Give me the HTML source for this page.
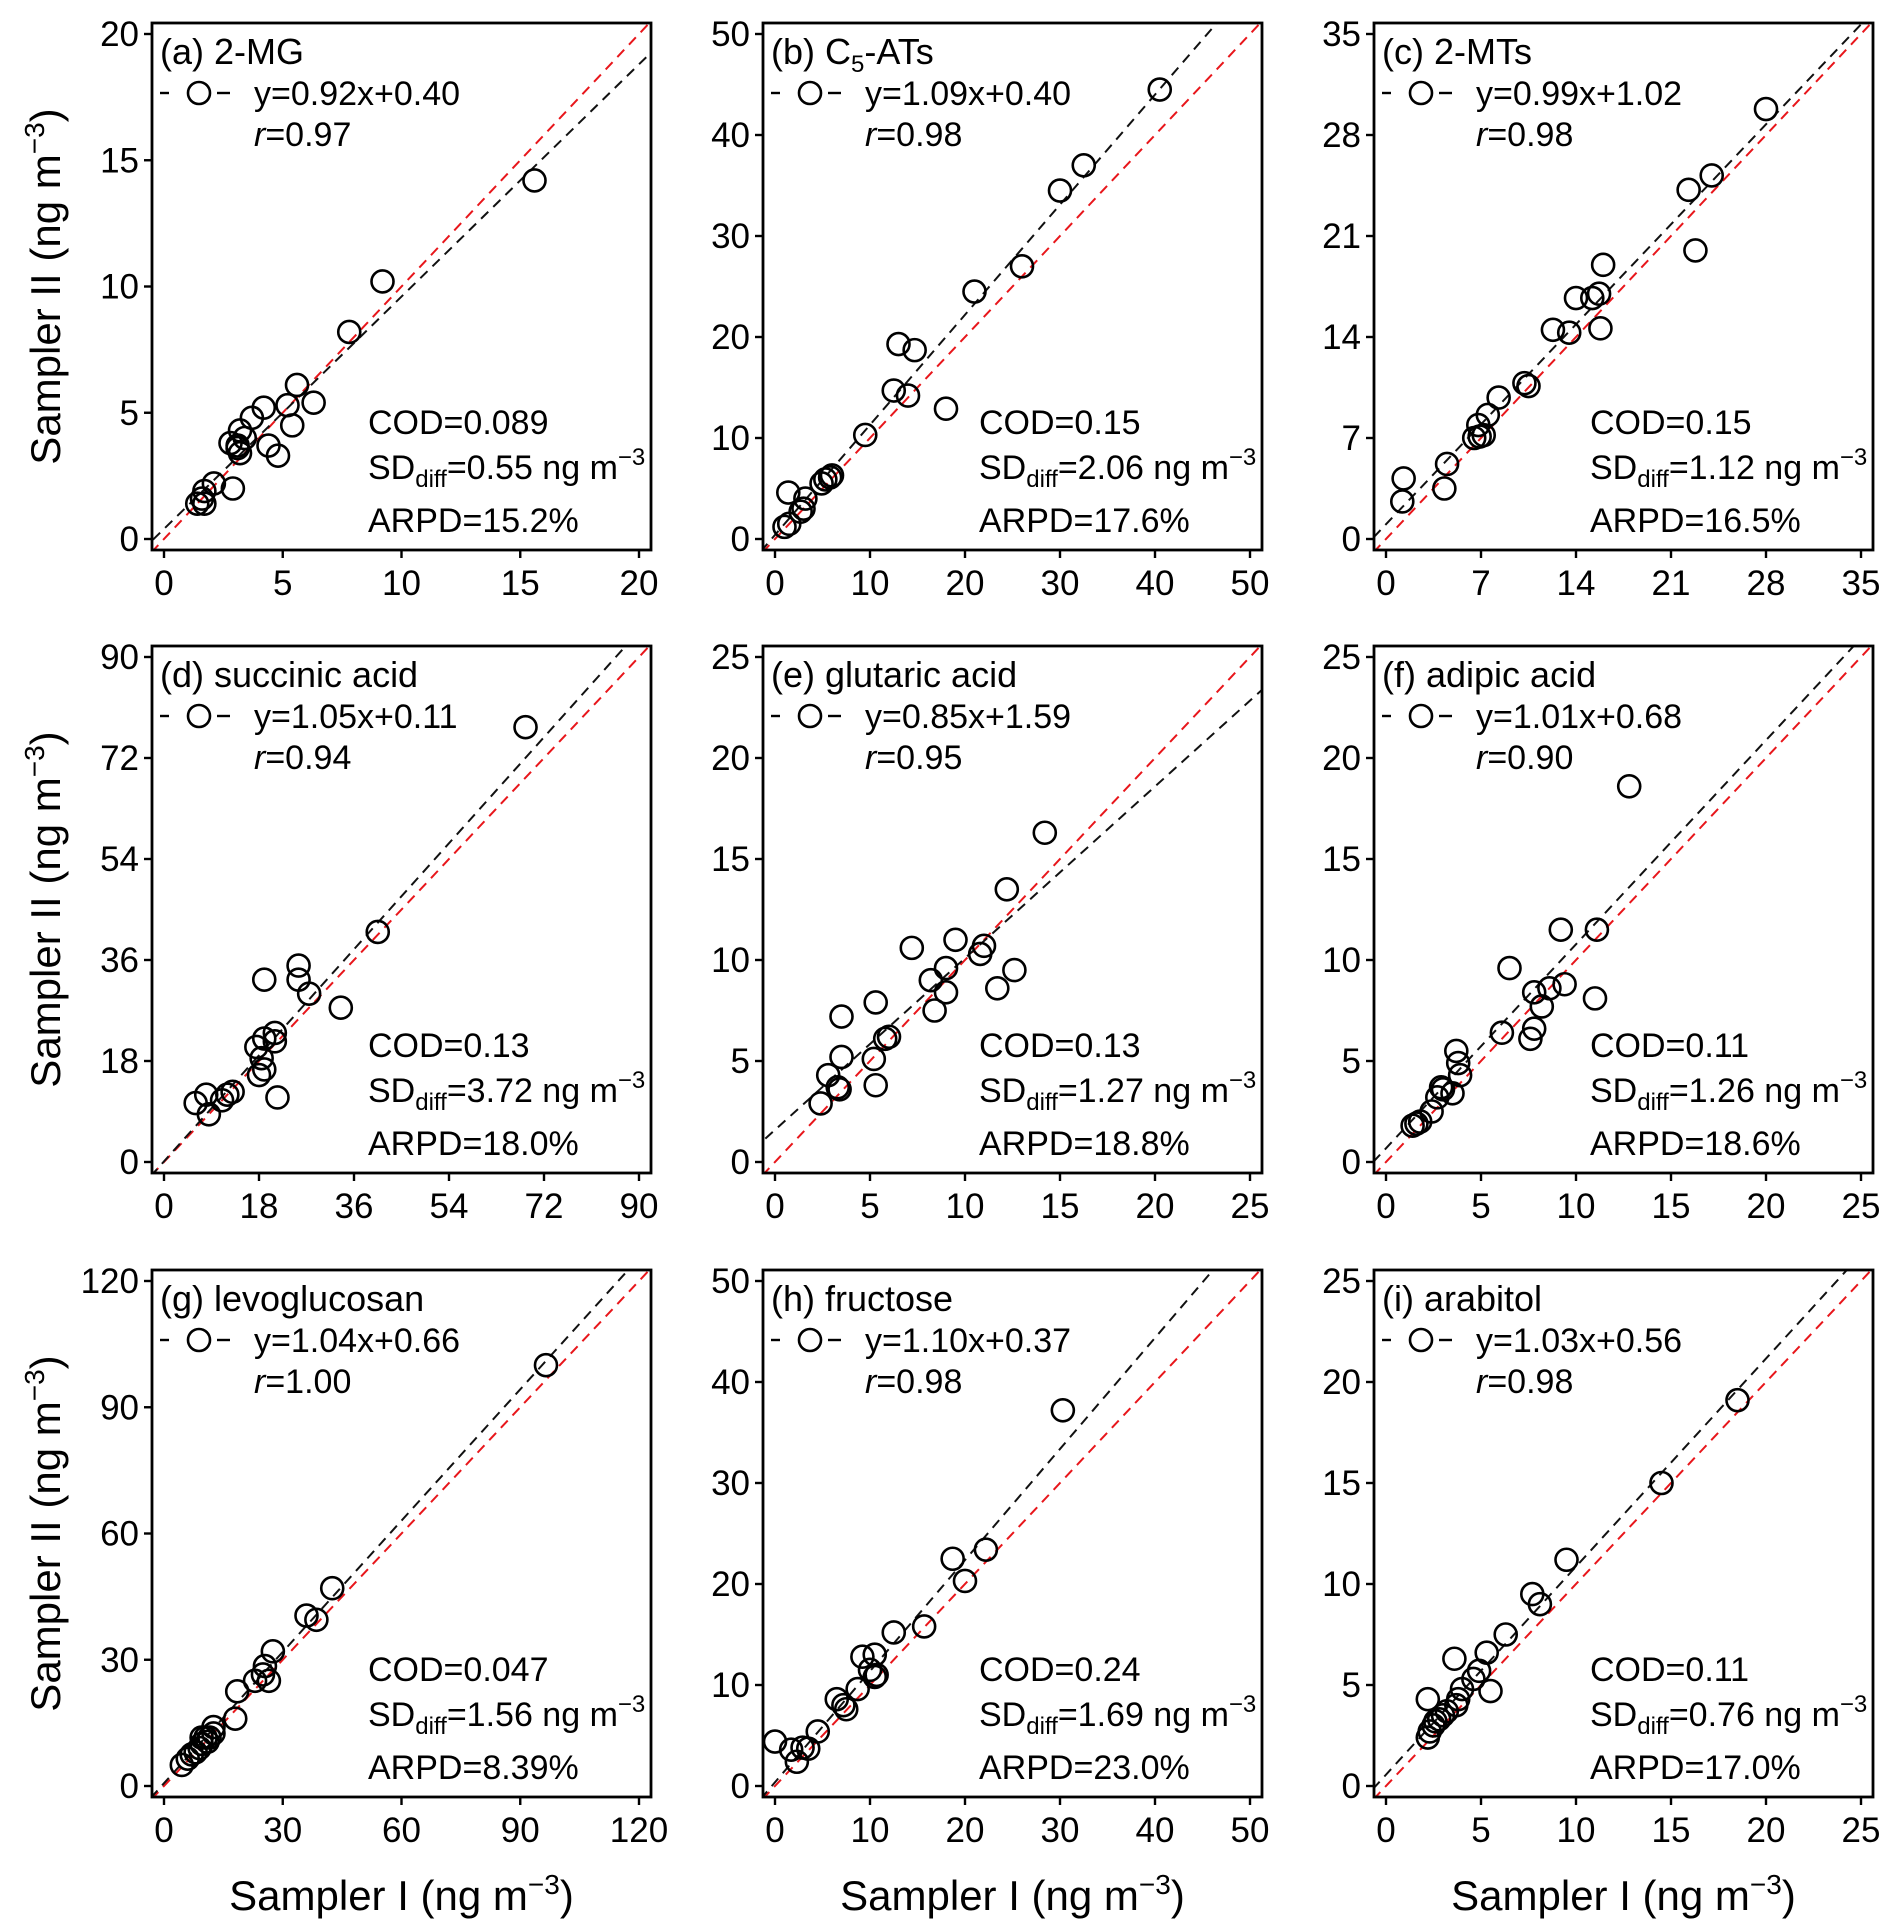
<!DOCTYPE html>
<html><head><meta charset="utf-8"><style>
html,body{margin:0;padding:0;background:#fff;}
svg{display:block;font-family:"Liberation Sans",Arial,sans-serif;}
</style></head><body>
<svg id="fig" width="1892" height="1927" viewBox="0 0 1892 1927" xmlns="http://www.w3.org/2000/svg"></svg>
<script>
// ---- data (Sampler I = x, Sampler II = y) ----
const aX=[15.6,9.2,7.8,5.6,6.3,5.2,5.4,4.2,3.7,3.2,3.4,2.8,3.1,3.2,4.4,4.8,2.9,2.1,1.7,1.6,1.4,1.7,3.1];
const aY=[14.2,10.2,8.2,6.1,5.4,5.3,4.5,5.2,4.8,4.3,4.0,3.8,3.7,3.4,3.7,3.3,2.0,2.2,1.9,1.6,1.4,1.4,3.6];
const bX=[40.5,32.5,30,26,21,13,14.7,12.5,14,18,9.5,6,5.3,4.9,3.2,3,2.7,1.4,1,1.5,5.8];
const bY=[44.5,37,34.5,27,24.5,19.3,18.7,14.7,14.2,12.9,10.3,6.3,5.9,5.5,4.0,3,2.7,4.6,1.2,1.5,6.1];
const cX=[28,24,22.3,22.8,16,15.7,15.2,14,12.3,13.5,15.8,10.2,10.5,8.3,7.5,6.8,6.9,7.2,4.5,4.3,1.3,1.2,6.5];
const cY=[29.8,25.2,24.2,20,19,17,16.7,16.7,14.5,14.3,14.6,10.8,10.6,9.8,8.6,7.9,7.1,7.2,5.2,3.5,4.2,2.6,7.0];
const dX=[68.5,40.5,33.5,27.5,25.5,25.5,19,21,21,19,17.5,18.5,18,21.5,13,12,11,8,6,8.5,19];
const dY=[77.5,41,27.5,30,35,32.5,32.5,23,21.5,22,20.5,18.5,15.5,11.5,12.5,12,11,12,10.5,8.5,16.5];
const eX=[14.2,12.2,9.5,7.2,10.8,11,12.6,11.7,9,8.2,9,8.4,5.3,3.5,6,5.8,3.5,5.2,2.8,5.3,3.3,3.4,2.4];
const eY=[16.3,13.5,11,10.6,10.3,10.7,9.5,8.6,9.6,9,8.4,7.5,7.9,7.2,6.2,6.1,5.2,5.1,4.3,3.8,3.7,3.6,2.9];
const fX=[12.8,9.2,11.1,6.5,9.4,8.6,7.8,8.2,11,7.8,7.6,6.1,3.7,3.8,3.9,2.9,3,3.5,2.4,1.8,1.6,1.4,2.7];
const fY=[18.6,11.5,11.5,9.6,8.8,8.6,8.4,7.7,8.1,6.6,6.1,6.4,5.5,4.9,4.3,3.7,3.6,3.4,2.5,2.0,1.9,1.8,3.2];
const gX=[96.5,42.5,36,38.5,27.5,25.5,23,25,26.5,18.5,18,12.5,12.5,10.5,11,9.5,9,7,6,4.5,9.5,11.5,8];
const gY=[100,47,40.5,39.5,32,28.5,25,26.5,25,22.5,16,14,12.5,11.5,10.5,10,9,7.5,6.5,5,11.5,11.5,8];
const hX=[30.3,18.7,22.2,20,15.7,12.5,10.5,9.2,10,10.7,10.5,8.7,6.5,7.2,7.5,4.5,3.5,1.7,2.3,0,2.9];
const hY=[37.2,22.5,23.4,20.3,15.8,15.2,13,12.8,11.5,11,10.8,9.6,8.6,8,7.6,5.4,3.7,3.6,2.4,4.4,3.8];
const iX=[18.5,14.5,9.5,7.7,8.1,6.3,5.3,3.6,4.9,4.6,5.5,4,3.8,3.7,2.2,3.2,3,2.6,2.5,2.3,2.2,2.8];
const iY=[19.1,15,11.2,9.5,9,7.5,6.6,6.3,5.7,5.3,4.7,4.8,4.3,4,4.3,3.7,3.5,3.2,3.0,2.7,2.4,3.3];
const axisMax=[20,50,35,90,25,25,120,50,25];
const tickStep=[5,10,7,18,5,5,30,10,5];
const slopes=[0.92,1.09,0.99,1.05,0.85,1.01,1.04,1.10,1.03];
const intercepts=[0.40,0.40,1.02,0.11,1.59,0.68,0.66,0.37,0.56];
const rVals=["0.97","0.98","0.98","0.94","0.95","0.90","1.00","0.98","0.98"];
const codVals=["0.089","0.15","0.15","0.13","0.13","0.11","0.047","0.24","0.11"];
const sdVals=["0.55","2.06","1.12","3.72","1.27","1.26","1.56","1.69","0.76"];
const arpdVals=["15.2%","17.6%","16.5%","18.0%","18.8%","18.6%","8.39%","23.0%","17.0%"];
const letters=["a","b","c","d","e","f","g","h","i"];
const names=["2-MG","C5-ATs","2-MTs","succinic acid","glutaric acid","adipic acid","levoglucosan","fructose","arabitol"];
const xsAll=[aX,bX,cX,dX,eX,fX,gX,hX,iX];
const ysAll=[aY,bY,cY,dY,eY,fY,gY,hY,iY];

const NS="http://www.w3.org/2000/svg";
const svg=document.getElementById('fig');
function mk(tag,attrs,parent){const e=document.createElementNS(NS,tag);for(const k in attrs)e.setAttribute(k,attrs[k]);(parent||svg).appendChild(e);return e;}
const colL=[152,763,1374], rowT=[23,646,1270], W=499, H=527, PX=12, PY=11;

for(let p=0;p<9;p++){
  const L=colL[p%3], T=rowT[Math.floor(p/3)], R=L+W, B=T+H, mx=axisMax[p];
  const sx=v=>L+PX+v/mx*(W-2*PX);
  const sy=v=>B-PY-v/mx*(H-2*PY);
  const g=mk('g',{});
  
  
  const cid='clip'+p;
  const cp=mk('clipPath',{id:cid},g); mk('rect',{x:L,y:T,width:W,height:H},cp);
  const lg=mk('g',{'clip-path':'url(#'+cid+')'},g);
  const x0=-mx*0.1, x1=mx*1.1;
  const ref=mk('line',{x1:sx(x0),y1:sy(x0),x2:sx(x1),y2:sy(x1),stroke:'#e8161b','stroke-width':2,'stroke-dasharray':'10,7'},lg);
  
  
  const fit=mk('line',{x1:sx(x0),y1:sy(slopes[p]*x0+intercepts[p]),x2:sx(x1),y2:sy(slopes[p]*x1+intercepts[p]),stroke:'#111','stroke-width':2,'stroke-dasharray':'10,7'},lg);
  
  
  const xs=xsAll[p], ys=ysAll[p];
  for(let k=0;k<xs.length;k++){
    const c=mk('circle',{cx:sx(xs[k]),cy:sy(ys[k]),r:11,fill:'none',stroke:'#000','stroke-width':2.6},lg);
    
    
  }
  const fr=mk('rect',{x:L,y:T,width:W,height:H,fill:'none',stroke:'#000','stroke-width':2.8},g);
  
  
  for(let v=0;v<=mx+1e-9;v+=tickStep[p]){
    mk('line',{x1:sx(v),y1:B,x2:sx(v),y2:B+8,stroke:'#000','stroke-width':2.4},g);
    const tx=mk('text',{x:sx(v),y:B+45,'font-size':35,'text-anchor':'middle'},g); tx.textContent=v;
    
    
    mk('line',{x1:L-8,y1:sy(v),x2:L,y2:sy(v),stroke:'#000','stroke-width':2.4},g);
    const ty=mk('text',{x:L-13,y:sy(v)+12,'font-size':35,'text-anchor':'end'},g); ty.textContent=v;
    
    
  }
  const tt=mk('text',{x:L+8,y:T+41,'font-size':36},g);
  
  
  if(p===1){ tt.innerHTML='(b) C<tspan font-size="24" dy="8">5</tspan><tspan dy="-8">-ATs</tspan>'; }
  else tt.textContent='('+letters[p]+') '+names[p];
  const lgY=T+70;
  mk('line',{x1:L+8,y1:lgY,x2:L+17,y2:lgY,stroke:'#000','stroke-width':2.4},g);
  mk('circle',{cx:L+47,cy:lgY,r:11,fill:'none',stroke:'#000','stroke-width':2.6},g);
  mk('line',{x1:L+65,y1:lgY,x2:L+78,y2:lgY,stroke:'#000','stroke-width':2.4},g);
  const eq=mk('text',{x:L+102,y:T+82,'font-size':34},g);
  eq.textContent='y='+slopes[p].toFixed(2)+'x+'+intercepts[p].toFixed(2);
  
  
  const rt=mk('text',{x:L+102,y:T+123,'font-size':34},g);
  rt.innerHTML='<tspan font-style="italic">r</tspan>='+rVals[p];
  
  
  const s1=mk('text',{x:L+216,y:T+411,'font-size':34},g); s1.textContent='COD='+codVals[p];
  
  
  const s2=mk('text',{x:L+216,y:T+456,'font-size':34},g);
  s2.innerHTML='SD<tspan font-size="24" dy="8">diff</tspan><tspan dy="-8">='+sdVals[p]+' ng m</tspan><tspan font-size="24" dy="-14">−3</tspan>';
  
  
  const s3=mk('text',{x:L+216,y:T+509,'font-size':34},g); s3.textContent='ARPD='+arpdVals[p];
  
  
}
for(let r=0;r<3;r++){
  const cy=rowT[r]+H/2;
  const t=mk('text',{x:0,y:0,'font-size':42,'text-anchor':'middle',transform:'translate(60,'+cy+') rotate(-90)'});
  t.innerHTML='Sampler II (ng m<tspan font-size="28" dy="-16">−3</tspan><tspan dy="16">)</tspan>';
  
  
}
for(let c=0;c<3;c++){
  const t=mk('text',{x:colL[c]+W/2,y:1910,'font-size':42,'text-anchor':'middle'});
  t.innerHTML='Sampler I (ng m<tspan font-size="28" dy="-16">−3</tspan><tspan dy="16">)</tspan>';
  
  
}
</script>
</body></html>
